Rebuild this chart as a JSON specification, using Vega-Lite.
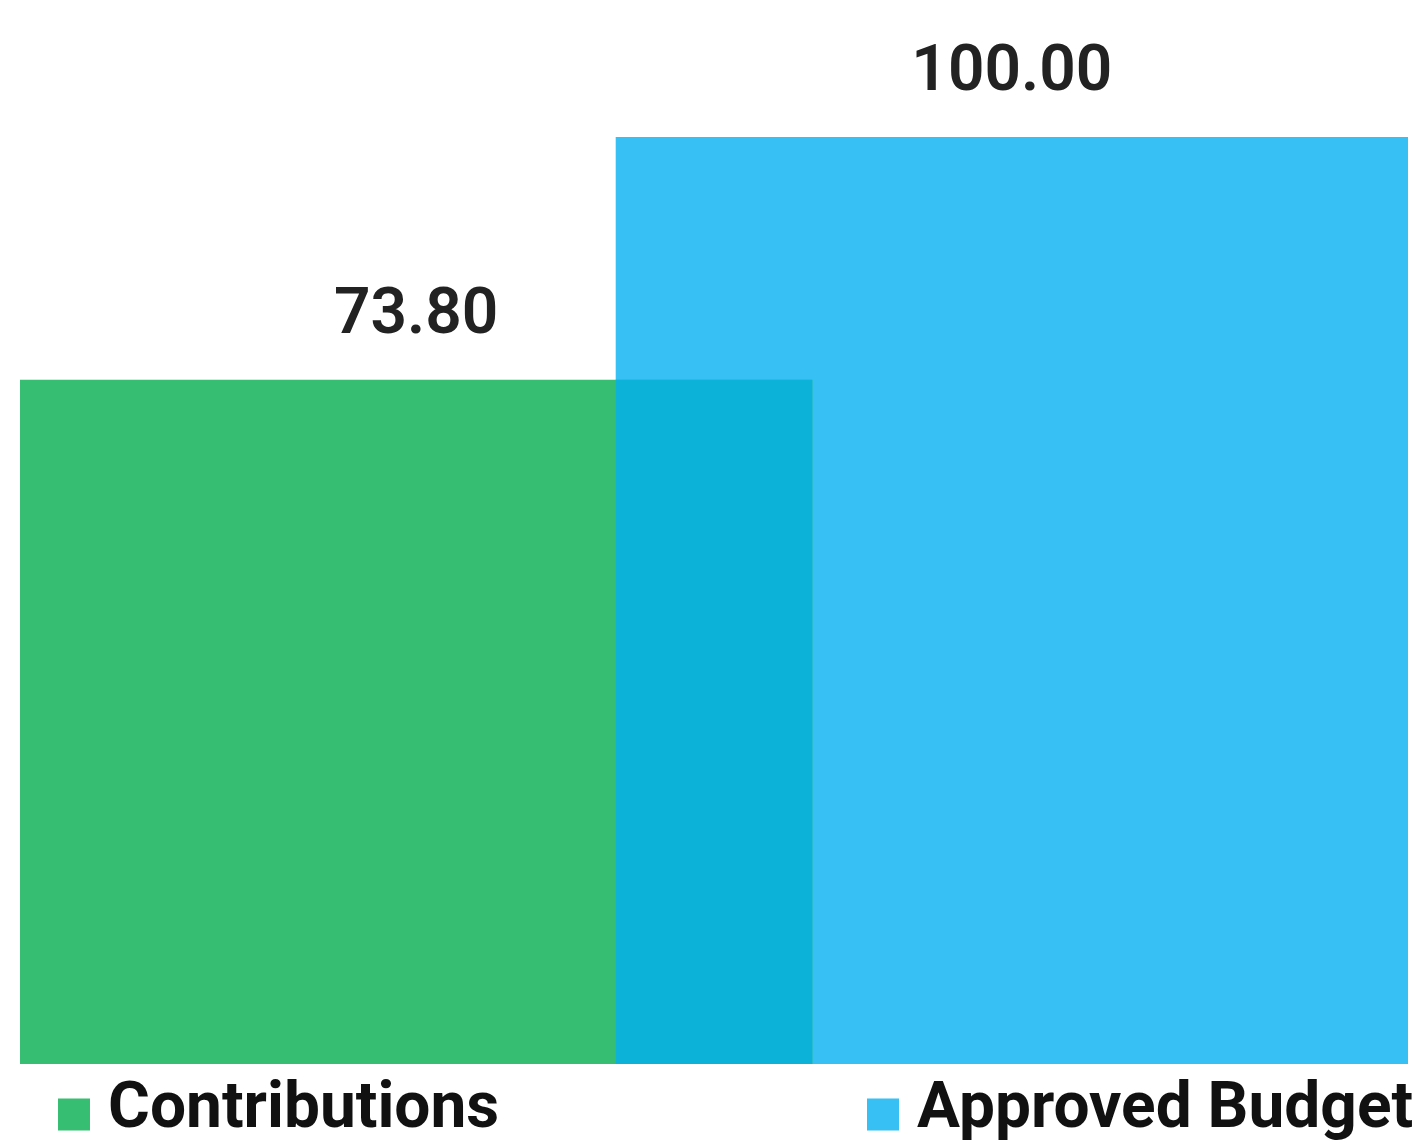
{
  "$schema": "https://vega.github.io/schema/vega-lite/v6.json",
  "width": 1388,
  "height": 927,
  "autosize": {"type": "none"},
  "padding": {"left": 20, "top": 137, "right": 19, "bottom": 79},
  "background": "white",
  "config": {"view": {"stroke": null}},
  "data": {"values": [
    {"category": "Approved Budget", "value": 100.0},
    {"category": "Contributions", "value": 73.8}
  ]},
  "encoding": {
    "x": {"field": "category", "type": "nominal", "sort": ["Contributions", "Approved Budget"],
      "scale": {"paddingInner": 0, "paddingOuter": 0.165}, "axis": null},
    "y": {"field": "value", "type": "quantitative", "scale": {"domain": [0, 100], "nice": false, "zero": true}, "axis": null}
  },
  "layer": [
    {
      "mark": {"type": "bar", "width": {"band": 1.33}},
      "encoding": {
        "color": {"field": "category", "type": "nominal",
          "scale": {"domain": ["Contributions", "Approved Budget"], "range": ["#36bf73", "#36c0f4"]},
          "legend": {"title": null, "orient": "none", "legendX": 22, "legendY": 939, "direction": "horizontal", "columns": 2,
            "columnPadding": 351, "symbolType": "M-1,-0.6H1V1.4H-1Z", "symbolSize": 1024, "symbolStrokeWidth": 0, "symbolOpacity": 1,
            "labelFont": "Roboto", "labelFontWeight": "bold", "labelFontSize": 64, "labelColor": "#111111", "labelOffset": 2,
            "labelLimit": 800, "padding": 0}
        }
      }
    },
    {
      "transform": [{"filter": "datum.category === 'Contributions'"}],
      "mark": {"type": "rect", "color": "#0db2d8"},
      "encoding": {
        "x": {"field": "category", "type": "nominal", "sort": ["Contributions", "Approved Budget"], "bandPosition": 0.835},
        "x2": {"field": "category", "bandPosition": 1.165},
        "y2": {"datum": 0}
      }
    },
    {
      "mark": {"type": "text", "font": "Roboto", "fontSize": 64, "fontWeight": 600, "color": "#222222", "baseline": "alphabetic", "dy": -47},
      "encoding": {
        "text": {"field": "value", "type": "quantitative", "format": ".2f"}
      }
    }
  ]
}
